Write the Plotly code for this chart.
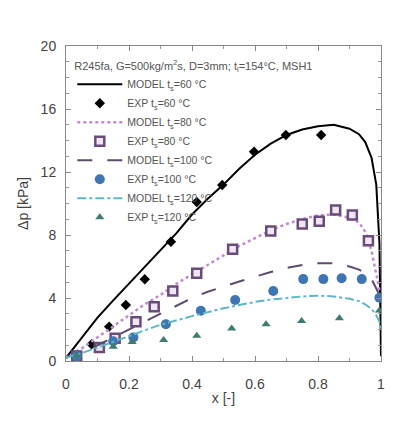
import plotly.graph_objects as go

# ---- data ----
model_x = [0, 0.05, 0.1, 0.15, 0.2, 0.25, 0.3, 0.35, 0.4, 0.45, 0.5, 0.55, 0.6, 0.65,
           0.7, 0.75, 0.8, 0.85, 0.9, 0.93, 0.95, 0.97, 0.985, 0.995, 1.0]
model60 = [0.2, 1.5, 2.75, 3.85, 4.9, 6.0, 7.0, 8.1, 9.3, 10.3, 11.2, 12.2, 13.1, 13.8,
           14.35, 14.7, 14.9, 15.0, 14.75, 14.4, 13.9, 12.9, 11.2, 7.5, 0.3]
model80 = [0.2, 0.8, 1.5, 2.2, 2.9, 3.6, 4.2, 4.9, 5.5, 6.1, 6.7, 7.3, 7.8, 8.3,
           8.7, 9.0, 9.25, 9.3, 9.1, 8.8, 8.2, 7.0, 5.5, 4.5, 3.6]
model100 = [0.2, 0.6, 1.0, 1.5, 2.0, 2.5, 3.0, 3.55, 4.0, 4.4, 4.75, 5.05, 5.35, 5.65,
            5.9, 6.1, 6.2, 6.2, 6.0, 5.8, 5.6, 5.2, 4.6, 4.2, 3.8]
model120 = [0.2, 0.5, 0.85, 1.2, 1.6, 1.95, 2.3, 2.6, 2.85, 3.1, 3.35, 3.55, 3.75, 3.9,
            4.0, 4.1, 4.15, 4.1, 3.95, 3.8, 3.6, 3.3, 2.9, 2.5, 2.0]

exp60_x = [0.034, 0.081, 0.137, 0.19, 0.25, 0.333, 0.415, 0.496, 0.597, 0.698, 0.81]
exp60_y = [0.38, 1.06, 2.18, 3.56, 5.19, 7.57, 10.1, 11.17, 13.29, 14.35, 14.35]

exp80_x = [0.034, 0.106, 0.156, 0.222, 0.28, 0.339, 0.415, 0.529, 0.65, 0.75, 0.804,
           0.856, 0.909, 0.96]
exp80_y = [0.32, 0.85, 1.44, 2.5, 3.45, 4.44, 5.57, 7.1, 8.25, 8.7, 8.87, 9.59, 9.27, 7.64]

exp100_x = [0.034, 0.15, 0.214, 0.317, 0.428, 0.537, 0.658, 0.753, 0.817, 0.875, 0.939, 0.995]
exp100_y = [0.3, 1.25, 1.5, 2.33, 3.19, 3.87, 4.44, 5.2, 5.2, 5.25, 5.2, 4.02]

exp120_x = [0.034, 0.15, 0.21, 0.31, 0.415, 0.526, 0.635, 0.748, 0.868, 0.995]
exp120_y = [0.35, 0.9, 1.2, 1.33, 1.6, 2.07, 2.33, 2.54, 2.71, 3.2]

legend_title = "R245fa, G=500kg/m<sup>2</sup>s, D=3mm; t<sub>i</sub>=154°C, MSH1"
names = ["MODEL t<sub>s</sub>=60 °C", "EXP t<sub>s</sub>=60 °C",
         "MODEL t<sub>s</sub>=80 °C", "EXP t<sub>s</sub>=80 °C",
         "MODEL t<sub>s</sub>=100 °C", "EXP t<sub>s</sub>=100 °C",
         "MODEL t<sub>s</sub>=120 °C", "EXP t<sub>s</sub>=120 °C"]

c_purple_l = "#c28bd0"
c_purple_d = "#6a4c7a"
c_model100 = "#5e4b6e"
c_blue = "#3f75b3"
c_teal = "#5cb8c8"
c_tri = "#3e7b70"
FONT = "Arial, Liberation Sans"

fig = go.Figure()
fig.add_trace(go.Scatter(x=model_x, y=model60, mode="lines", name=names[0],
                         line=dict(color="black", width=2)))
fig.add_trace(go.Scatter(x=exp60_x, y=exp60_y, mode="markers", name=names[1],
                         marker=dict(symbol="diamond", color="black", size=8)))
fig.add_trace(go.Scatter(x=model_x, y=model80, mode="lines", name=names[2],
                         line=dict(color=c_purple_l, width=2.5, dash="dot")))
fig.add_trace(go.Scatter(x=exp80_x, y=exp80_y, mode="markers", name=names[3],
                         marker=dict(symbol="square", color="#efe6f1", size=9,
                                     line=dict(color=c_purple_d, width=2.5))))
fig.add_trace(go.Scatter(x=model_x, y=model100, mode="lines", name=names[4],
                         line=dict(color=c_model100, width=2, dash="longdash")))
fig.add_trace(go.Scatter(x=exp100_x, y=exp100_y, mode="markers", name=names[5],
                         marker=dict(symbol="circle", color=c_blue, size=10)))
fig.add_trace(go.Scatter(x=model_x, y=model120, mode="lines", name=names[6],
                         line=dict(color=c_teal, width=2, dash="dashdot")))
fig.add_trace(go.Scatter(x=exp120_x, y=exp120_y, mode="markers", name=names[7],
                         marker=dict(symbol="triangle-up", color=c_tri, size=8)))

axis_common = dict(showgrid=False, zeroline=False, showline=True, linecolor="#888",
                   linewidth=1, mirror="ticks", ticks="inside", ticklen=5,
                   tickcolor="#888", tickfont=dict(family=FONT, size=14, color="#444"))
fig.update_xaxes(range=[0, 1], tickvals=[0, 0.2, 0.4, 0.6, 0.8, 1],
                 ticktext=["0", "0.2", "0.4", "0.6", "0.8", "1"],
                 minor=dict(dtick=0.1, ticks="inside", ticklen=3, tickcolor="#999"),
                 ticklabelstandoff=10,
                 title=dict(text="x [-]", standoff=2,
                            font=dict(family=FONT, size=14, color="#444")),
                 **axis_common)
fig.update_yaxes(range=[0, 20], tickvals=[0, 4, 8, 12, 16, 20],
                 minor=dict(dtick=1, ticks="inside", ticklen=3, tickcolor="#999"),
                 ticklabelstandoff=6,
                 title=dict(text="Δp [kPa]", standoff=8,
                            font=dict(family=FONT, size=14, color="#444")),
                 **axis_common)

fig.update_layout(
    width=417, height=424,
    margin=dict(l=66, r=36, t=46, b=63),
    paper_bgcolor="white", plot_bgcolor="white",
    legend=dict(x=0.02, y=0.97, xanchor="left", yanchor="top",
                bgcolor="rgba(0,0,0,0)", tracegroupgap=0, itemwidth=45,
                font=dict(family=FONT, size=10.5, color="#555"),
                title=dict(text=legend_title,
                           font=dict(family=FONT, size=11, color="#555"),
                           side="top")),
)

fig.write_html("out.html")
